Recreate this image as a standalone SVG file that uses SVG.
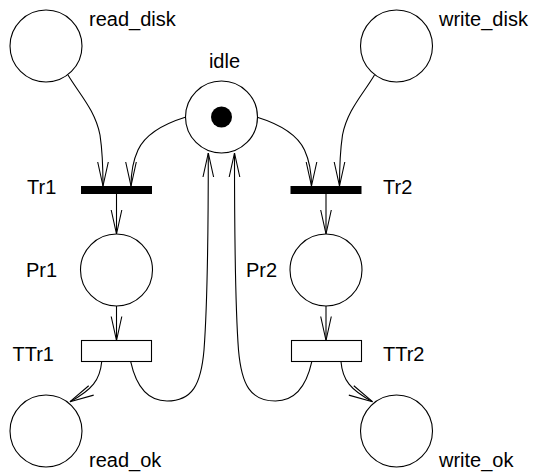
<svg xmlns="http://www.w3.org/2000/svg" width="533" height="476" viewBox="0 0 533 476">
<style>
.pl{fill:#fff;stroke:#000;stroke-width:1.1}
.tr{fill:#000;stroke:none}
.tt{fill:#fff;stroke:#000;stroke-width:1.1}
.lb{font-family:"Liberation Sans",Arial,sans-serif;font-size:20px;fill:#000}
.ar{fill:none;stroke:#000;stroke-width:1.1;marker-end:url(#ah)}
</style>
<defs>
<marker id="ah" markerUnits="userSpaceOnUse" viewBox="-27 -8 30 16" markerWidth="30" markerHeight="16" refX="0" refY="0" orient="auto">
<path d="M-24,-5.3 L0,0 L-24,5.3" fill="none" stroke="#000" stroke-width="1.1"/>
</marker>
</defs>
<rect width="533" height="476" fill="#fff"/>
<g id="connectors">
<path class="ar" d="M68,75 C80,95 95,110 100,135 C103,155 103,170 103,186"/>
<path class="ar" d="M186,117 C160,125 145,135 138,150 C132,163 131,175 131,186"/>
<path class="ar" d="M116.5,194 L116.5,234"/>
<path class="ar" d="M116.5,306 L116.5,340.5"/>
<path class="ar" d="M101.7,361.7 C100,380 92,390 70,401.7"/>
<path class="ar" d="M130.7,361.7 C137,390 150,401 167,401 C192,401 201,385 204,350 C207,310 208.3,250 208.3,153"/>
<path class="ar" d="M374.5,75 C362.5,95 347.5,110 342.5,135 C339.5,155 339.5,170 339.5,186"/>
<path class="ar" d="M256.5,117 C282.5,125 297.5,135 304.5,150 C310.5,163 311.5,175 311.5,186"/>
<path class="ar" d="M326,194 L326,234"/>
<path class="ar" d="M326,306 L326,340.5"/>
<path class="ar" d="M341,361.7 C342.5,380 350.5,390 372.5,401.7"/>
<path class="ar" d="M311.8,361.7 C305.5,390 292.5,401 275.5,401 C250.5,401 241.5,385 238.5,350 C235.5,310 234.5,250 234.5,153"/>
</g>
<g id="read_disk"><circle class="pl" cx="46" cy="46" r="36"/><text class="lb" x="89" y="26">read_disk</text></g>
<g id="write_disk"><circle class="pl" cx="396.5" cy="46" r="36"/><text class="lb" x="439" y="26">write_disk</text></g>
<g id="idle"><circle class="pl" cx="221.5" cy="117" r="36"/><circle cx="221.5" cy="117" r="10.5" fill="#000"/><text class="lb" x="224.5" y="68" text-anchor="middle">idle</text></g>
<g id="Tr1"><rect class="tr" x="81" y="186" width="71" height="8"/><text class="lb" x="27" y="194">Tr1</text></g>
<g id="Tr2"><rect class="tr" x="290.5" y="186" width="71" height="8"/><text class="lb" x="383" y="194">Tr2</text></g>
<g id="Pr1"><circle class="pl" cx="116.5" cy="270" r="36"/><text class="lb" x="26" y="277">Pr1</text></g>
<g id="Pr2"><circle class="pl" cx="326" cy="270" r="36"/><text class="lb" x="246" y="277">Pr2</text></g>
<g id="TTr1"><rect class="tt" x="81.5" y="340.5" width="70" height="21"/><text class="lb" x="12.5" y="361">TTr1</text></g>
<g id="TTr2"><rect class="tt" x="291.5" y="340.5" width="70" height="21"/><text class="lb" x="383" y="361">TTr2</text></g>
<g id="read_ok"><circle class="pl" cx="46" cy="431" r="36"/><text class="lb" x="89" y="467">read_ok</text></g>
<g id="write_ok"><circle class="pl" cx="396.5" cy="431" r="36"/><text class="lb" x="439" y="467">write_ok</text></g>
</svg>
